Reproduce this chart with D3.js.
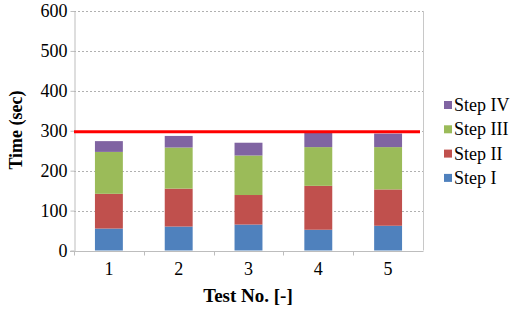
<!DOCTYPE html>
<head>
	<script src="https://d3js.org/d3.v7.min.js"></script>
	<style>
		body { margin: 0; background: #fff; }
	</style>
</head>
<body>
	<script type="text/javascript">
		// chart data
		var tests = ["1", "2", "3", "4", "5"];
		var steps = ["Step I", "Step II", "Step III", "Step IV"];
		var stepI = [55, 60, 65, 52, 62];
		var stepII = [87, 95, 74, 110, 91];
		var stepIII = [105, 103, 99, 97, 106];
		var stepIV = [27, 29, 32, 36, 34];
		var yTicks = [0, 100, 200, 300, 400, 500, 600];
		var limit = 300;
		var colors = ["#4f81bd", "#c0504d", "#9bbb59", "#8064a2"];

		var w = 512, h = 310;
		var m = {left: 74, right: 89, top: 11, bottom: 60};
		var serif = "'Liberation Serif', serif";

		var svg = d3.select("body").append("svg").attr("width", w).attr("height", h)
			.style("font-family", serif);

		var xScale = d3.scaleBand().domain(tests).range([m.left, w - m.right]).paddingInner(0.6).paddingOuter(0.3);
		var xBand = d3.scaleBand().domain(tests).range([m.left, w - m.right]);
		var yScale = d3.scaleLinear().domain([0, 600]).range([h - m.bottom + 0.5, m.top]);

		// gridlines
		svg.append("g").selectAll("line")
			.data(yTicks.slice(1))
			.enter().append("line")
			.attr("x1", m.left).attr("x2", w - m.right)
			.attr("y1", function(d){ return Math.round(yScale(d)) + 0.5; })
			.attr("y2", function(d){ return Math.round(yScale(d)) + 0.5; })
			.attr("stroke", "#b0b0b0").attr("stroke-dasharray", "2,2");

		// right border
		svg.append("line")
			.attr("x1", w - m.right + 0.5).attr("x2", w - m.right + 0.5)
			.attr("y1", yScale(600)).attr("y2", yScale(0))
			.attr("stroke", "#c8c8c8");

		// stacked bars
		var table = tests.map(function(t, i){
			return {test: t, "Step I": stepI[i], "Step II": stepII[i], "Step III": stepIII[i], "Step IV": stepIV[i]};
		});
		var stacked = d3.stack().keys(steps)(table);

		svg.append("g").selectAll("g")
			.data(stacked)
			.enter().append("g")
			.attr("fill", function(d, i){ return colors[i]; })
			.selectAll("rect")
			.data(function(d){ return d; })
			.enter().append("rect")
			.attr("x", function(d){ return xScale(d.data.test); })
			.attr("width", xScale.bandwidth())
			.attr("y", function(d){ return yScale(d[1]); })
			.attr("height", function(d){ return yScale(d[0]) - yScale(d[1]); });

		// axes
		var yAxis = d3.axisLeft(yScale).tickValues(yTicks).tickSize(4).tickPadding(3).tickSizeOuter(0);
		var gy = svg.append("g").attr("transform", "translate(" + (m.left + 0.5) + ",0)").call(yAxis);
		gy.attr("font-family", null).attr("font-size", null);
		gy.select(".domain").attr("stroke", "#bdbdbd");
		gy.selectAll(".tick line").attr("stroke", "#bdbdbd");
		gy.selectAll("text").style("font-family", serif).attr("font-size", 18).attr("fill", "#000");

		var gx = svg.append("g").attr("transform", "translate(0," + (Math.round(yScale(0)) + 0.5) + ")");
		gx.append("line").attr("x1", m.left - 4).attr("x2", w - m.right + 0.5)
			.attr("stroke", "#bdbdbd");
		gx.selectAll(".tk").data(tests.slice(1)).enter().append("line")
			.attr("x1", function(d){ return Math.round(xBand(d)) + 0.5; })
			.attr("x2", function(d){ return Math.round(xBand(d)) + 0.5; })
			.attr("y1", 0).attr("y2", 4).attr("stroke", "#bdbdbd");
		gx.append("line").attr("x1", m.left + 0.5).attr("x2", m.left + 0.5).attr("y1", 0).attr("y2", 4).attr("stroke", "#bdbdbd");
		gx.selectAll("text").data(tests).enter().append("text")
			.attr("x", function(d){ return xBand(d) + xBand.bandwidth() / 2; })
			.attr("y", 23)
			.attr("text-anchor", "middle")
			.attr("font-size", 18)
			.text(function(d){ return d; });

		// limit line
		svg.append("line")
			.attr("x1", m.left).attr("x2", 420)
			.attr("y1", yScale(limit) + 1).attr("y2", yScale(limit) + 1)
			.attr("stroke", "#ff0000").attr("stroke-width", 3);

		// axis titles
		svg.append("text")
			.attr("transform", "translate(22,130) rotate(-90)")
			.attr("text-anchor", "middle")
			.attr("font-size", 18).attr("font-weight", "bold")
			.text("Time (sec)");
		svg.append("text")
			.attr("x", 248).attr("y", 302)
			.attr("text-anchor", "middle")
			.attr("font-size", 19).attr("font-weight", "bold")
			.text("Test No. [-]");

		// legend (reverse order)
		var legend = svg.append("g").selectAll("g")
			.data(steps.slice().reverse())
			.enter().append("g")
			.attr("transform", function(d, i){ return "translate(444," + (105 + i * 24.3) + ")"; });
		legend.append("rect")
			.attr("x", 0).attr("y", -4).attr("width", 8).attr("height", 8)
			.attr("fill", function(d){ return colors[steps.indexOf(d)]; });
		legend.append("text")
			.attr("x", 10).attr("y", 6)
			.attr("font-size", 18)
			.text(function(d){ return d; });
	</script>
</body>
